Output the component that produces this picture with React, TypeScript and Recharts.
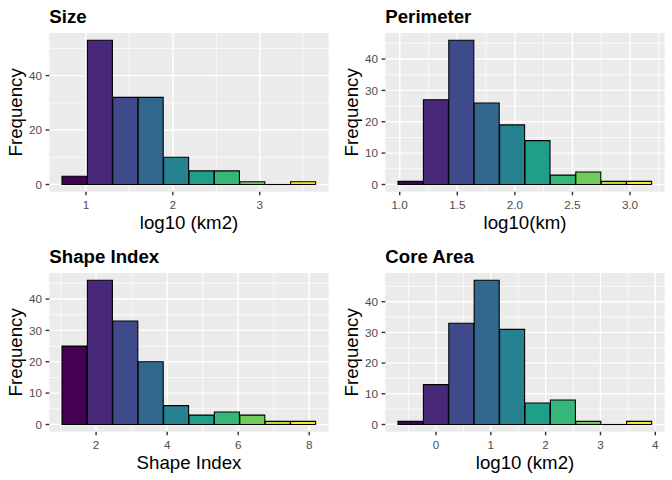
import React from 'react';
import {
  BarChart,
  Bar,
  Cell,
  XAxis,
  YAxis,
  CartesianGrid,
  ReferenceLine,
} from 'recharts';

// ---------- data ----------
const viridis10 = ['#440154', '#482878', '#3E4A89', '#31688E', '#26828E', '#1F9E89', '#35B779', '#6DCD59', '#B4DE2C', '#FDE725'];

const sizeCounts = [3, 53, 32, 32, 10, 5, 5, 1, 0, 1];
const sizeBinStart = 0.724;
const sizeBinWidth = 0.2924;
const sizeXTicks = [1, 2, 3];
const sizeXMinor = [1.5, 2.5, 3.5];
const sizeYTicks = [0, 20, 40];
const sizeYMinor = [10, 30, 50];

const perimeterCounts = [1, 27, 46, 26, 19, 14, 3, 4, 1, 1];
const perimeterBinStart = 0.985;
const perimeterBinWidth = 0.2206;
const perimeterXTicks = [1.0, 1.5, 2.0, 2.5, 3.0];
const perimeterXTickLabels = ['1.0', '1.5', '2.0', '2.5', '3.0'];
const perimeterXMinor = [1.25, 1.75, 2.25, 2.75, 3.25];
const perimeterYTicks = [0, 10, 20, 30, 40];
const perimeterYMinor = [5, 15, 25, 35, 45];

const shapeCounts = [25, 46, 33, 20, 6, 3, 4, 3, 1, 1];
const shapeBinStart = 1.04;
const shapeBinWidth = 0.715;
const shapeXTicks = [2, 4, 6, 8];
const shapeXMinor = [1, 3, 5, 7];
const shapeYTicks = [0, 10, 20, 30, 40];
const shapeYMinor = [5, 15, 25, 35, 45];

const coreCounts = [1, 13, 33, 47, 31, 7, 8, 1, 0, 1];
const coreBinStart = -0.692;
const coreBinWidth = 0.4632;
const coreXTicks = [0, 1, 2, 3, 4];
const coreXMinor = [-0.5, 0.5, 1.5, 2.5, 3.5];
const coreYTicks = [0, 10, 20, 30, 40];
const coreYMinor = [5, 15, 25, 35, 45];

// ---------- layout / style ----------
const W = 336;
const H = 240;
const FONT = '"Liberation Sans", Arial, Helvetica, sans-serif';
const PLOT_LEFT = 49.3;
const PLOT_RIGHT = 7.3;
const PLOT_TOP = 33;
const PLOT_BOTTOM = 48.3;
const TICK_LEN = 3.67;

type PanelProps = {
  title: string;
  xTitle: string;
  counts: number[];
  binStart: number;
  binWidth: number;
  xTicks: number[];
  xTickLabels?: string[];
  xMinor: number[];
  yTicks: number[];
  yMinor: number[];
};

function Panel(p: PanelProps) {
  const data = p.counts.map((c, i) => ({
    x: p.binStart + p.binWidth * (i + 0.5),
    lo: p.binStart + p.binWidth * i,
    hi: p.binStart + p.binWidth * (i + 1),
    count: c,
    fill: viridis10[i],
  }));
  const xMin = p.binStart;
  const xMax = p.binStart + p.binWidth * p.counts.length;
  const xPad = (xMax - xMin) * 0.05;
  const yMax = Math.max(...p.counts);
  const yPad = yMax * 0.05;
  const tickStyle = { fill: '#4D4D4D', fontSize: 11.7, fontFamily: FONT };
  const fmt = (v: number) => {
    if (p.xTickLabels) {
      const idx = p.xTicks.indexOf(v);
      if (idx >= 0) return p.xTickLabels[idx];
    }
    return String(v);
  };
  const plotCenterX = PLOT_LEFT + (W - PLOT_LEFT - PLOT_RIGHT) / 2;
  const plotCenterY = PLOT_TOP + (H - PLOT_TOP - PLOT_BOTTOM) / 2;
  return (
    <div style={{ position: 'relative', width: W, height: H }}>
      <BarChart
        width={W}
        height={H}
        data={data}
        margin={{ top: PLOT_TOP, right: PLOT_RIGHT, bottom: 0, left: 0 }}
        barCategoryGap={0}
        barGap={0}
      >
        <CartesianGrid
          fill="#EBEBEB"
          stroke="#FFFFFF"
          strokeWidth={0.71}
          horizontalValues={p.yMinor}
          verticalValues={p.xMinor}
        />
        <CartesianGrid
          stroke="#FFFFFF"
          strokeWidth={1.42}
          horizontalValues={p.yTicks}
          verticalValues={p.xTicks}
        />
        <XAxis
          dataKey="x"
          type="number"
          domain={[xMin - xPad, xMax + xPad]}
          allowDataOverflow
          ticks={p.xTicks}
          interval={0}
          tickFormatter={fmt}
          height={PLOT_BOTTOM}
          axisLine={false}
          tickLine={{ stroke: '#333333', strokeWidth: 1.42 }}
          tickSize={TICK_LEN}
          tickMargin={5}
          tick={tickStyle}
        />
        <YAxis
          type="number"
          domain={[-yPad, yMax + yPad]}
          allowDataOverflow
          ticks={p.yTicks}
          interval={0}
          width={PLOT_LEFT}
          axisLine={false}
          tickLine={{ stroke: '#333333', strokeWidth: 1.42 }}
          tickSize={TICK_LEN}
          tickMargin={3.6}
          tick={tickStyle}
        />
        <Bar dataKey="count" stroke="#000000" strokeWidth={1.1} isAnimationActive={false}>
          {data.map((d, i) => (
            <Cell key={i} fill={d.fill} />
          ))}
        </Bar>
        {data
          .filter((d) => d.count === 0)
          .map((d, i) => (
            <ReferenceLine
              key={'z' + i}
              segment={[
                { x: d.lo, y: 0 },
                { x: d.hi, y: 0 },
              ]}
              stroke="#000000"
              strokeWidth={1.1}
            />
          ))}
      </BarChart>
      <svg
        width={W}
        height={H}
        style={{ position: 'absolute', left: 0, top: 0, pointerEvents: 'none' }}
      >
        <text x={PLOT_LEFT} y={22.5} fontFamily={FONT} fontSize={18.67} fontWeight="bold" fill="#000000">
          {p.title}
        </text>
        <text x={plotCenterX} y={229.3} fontFamily={FONT} fontSize={18.67} fill="#000000" textAnchor="middle">
          {p.xTitle}
        </text>
        <text
          x={0}
          y={0}
          transform={`translate(21.7, ${plotCenterY}) rotate(-90)`}
          fontFamily={FONT}
          fontSize={18.67}
          fill="#000000"
          textAnchor="middle"
        >
          Frequency
        </text>
      </svg>
    </div>
  );
}

export default function App() {
  return (
    <div
      style={{
        position: 'absolute',
        left: 0,
        top: 0,
        width: 672,
        height: 480,
        background: '#FFFFFF',
        display: 'grid',
        gridTemplateColumns: `${W}px ${W}px`,
        gridTemplateRows: `${H}px ${H}px`,
      }}
    >
      <Panel
        title="Size"
        xTitle="log10 (km2)"
        counts={sizeCounts}
        binStart={sizeBinStart}
        binWidth={sizeBinWidth}
        xTicks={sizeXTicks}
        xMinor={sizeXMinor}
        yTicks={sizeYTicks}
        yMinor={sizeYMinor}
      />
      <Panel
        title="Perimeter"
        xTitle="log10(km)"
        counts={perimeterCounts}
        binStart={perimeterBinStart}
        binWidth={perimeterBinWidth}
        xTicks={perimeterXTicks}
        xTickLabels={perimeterXTickLabels}
        xMinor={perimeterXMinor}
        yTicks={perimeterYTicks}
        yMinor={perimeterYMinor}
      />
      <Panel
        title="Shape Index"
        xTitle="Shape Index"
        counts={shapeCounts}
        binStart={shapeBinStart}
        binWidth={shapeBinWidth}
        xTicks={shapeXTicks}
        xMinor={shapeXMinor}
        yTicks={shapeYTicks}
        yMinor={shapeYMinor}
      />
      <Panel
        title="Core Area"
        xTitle="log10 (km2)"
        counts={coreCounts}
        binStart={coreBinStart}
        binWidth={coreBinWidth}
        xTicks={coreXTicks}
        xMinor={coreXMinor}
        yTicks={coreYTicks}
        yMinor={coreYMinor}
      />
    </div>
  );
}
